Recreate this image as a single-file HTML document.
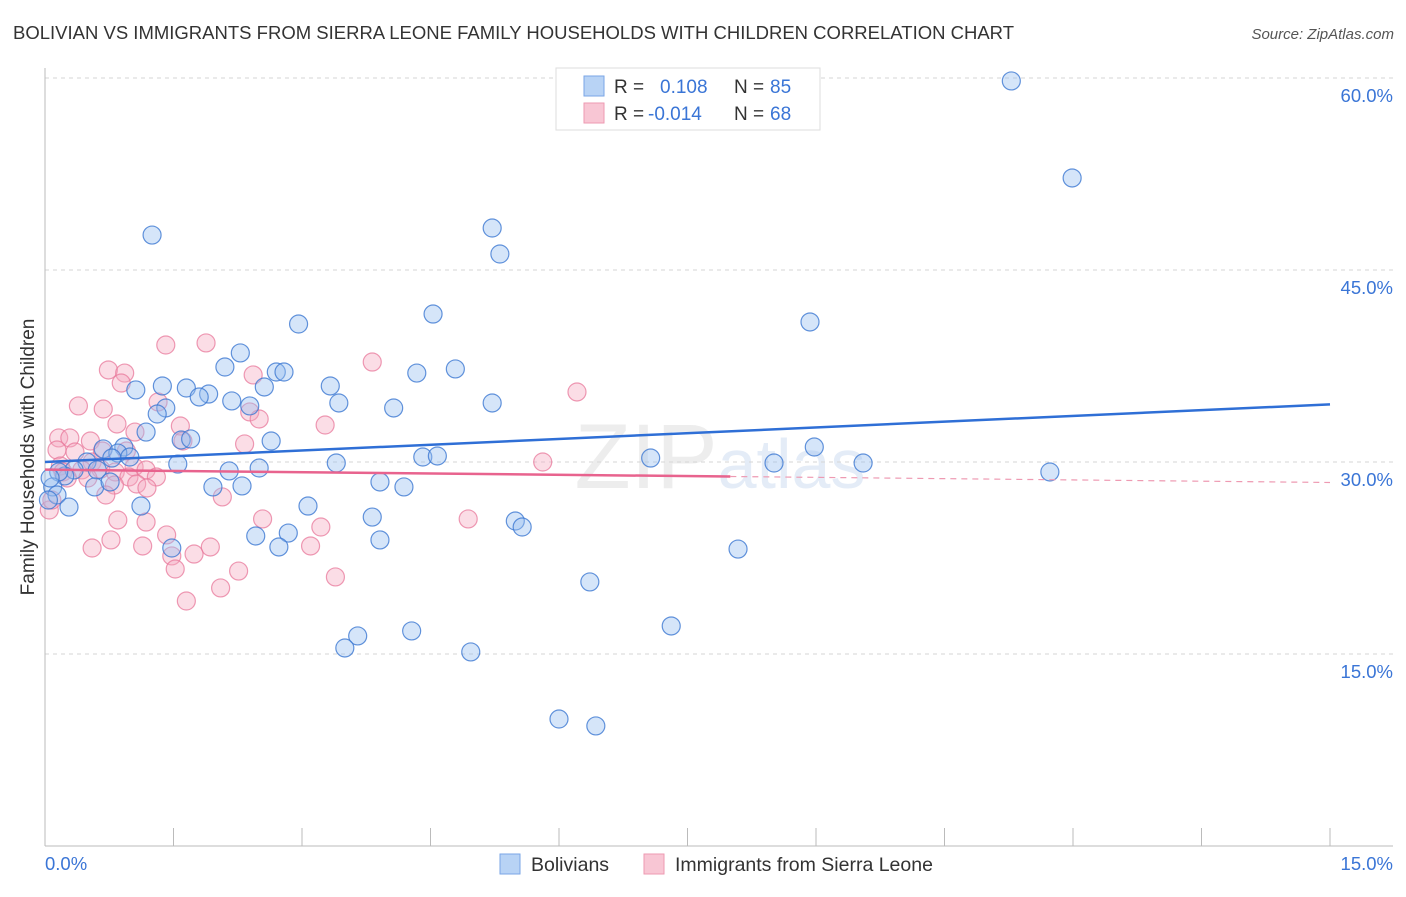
<!DOCTYPE html>
<html><head><meta charset="utf-8"><style>
body{margin:0;background:#fff;font-family:"Liberation Sans",sans-serif}
svg text{font-family:"Liberation Sans",sans-serif}
</style></head><body>
<svg id="chart" width="1406" height="892" xmlns="http://www.w3.org/2000/svg">
<text x="13" y="39" font-size="18" fill="#333" textLength="1001" lengthAdjust="spacingAndGlyphs">BOLIVIAN VS IMMIGRANTS FROM SIERRA LEONE FAMILY HOUSEHOLDS WITH CHILDREN CORRELATION CHART</text>
<text x="1394" y="39" font-size="15" fill="#555" text-anchor="end" font-style="italic">Source: ZipAtlas.com</text>
<text x="720" y="488" font-size="92" fill="#e2e2e2" text-anchor="middle" font-family="Liberation Serif" opacity="0.6">ZIP<tspan font-family="Liberation Sans" font-size="70" fill="#d3e0f2">atlas</tspan></text>
<g id="grid"></g><g id="axes"></g><g id="pts"></g><g id="lines"></g>
<text transform="translate(34,457) rotate(-90)" font-size="19" fill="#333" text-anchor="middle">Family Households with Children</text>
<g>
<rect x="556" y="68" width="264" height="62" fill="#fff" stroke="#ddd"/>
<rect x="584" y="76" width="20" height="20" fill="#b8d3f5" stroke="#7aa6e6"/>
<rect x="584" y="103" width="20" height="20" fill="#f8c6d4" stroke="#ee9ab2"/>
<text x="614" y="93" font-size="19" fill="#333">R = </text><text x="660" y="93" font-size="19" fill="#3a75d6">0.108</text>
<text x="734" y="93" font-size="19" fill="#333">N = </text><text x="770" y="93" font-size="19" fill="#3a75d6">85</text>
<text x="614" y="120" font-size="19" fill="#333">R = </text><text x="648" y="120" font-size="19" fill="#3a75d6">-0.014</text>
<text x="734" y="120" font-size="19" fill="#333">N = </text><text x="770" y="120" font-size="19" fill="#3a75d6">68</text>
</g>
<g>
<rect x="500" y="854" width="20" height="20" fill="#b8d3f5" stroke="#7aa6e6"/>
<text x="531" y="871" font-size="19.5" fill="#333">Bolivians</text>
<rect x="644" y="854" width="20" height="20" fill="#f8c6d4" stroke="#ee9ab2"/>
<text x="675" y="871" font-size="19.5" fill="#333">Immigrants from Sierra Leone</text>
</g>
</svg>
<script>
const blueX=[11.28,11.99,1.25,5.22,5.31,4.53,2.96,8.93,2.28,2.10,2.70,2.79,4.34,4.79,2.56,1.37,1.65,1.06,1.91,1.80,3.33,2.18,2.39,3.43,4.07,5.22,1.41,1.31,1.18,1.59,1.70,2.64,0.92,0.68,0.85,0.99,0.49,0.78,1.55,3.40,4.41,4.58,7.07,8.51,8.98,9.55,11.73,2.15,2.50,0.34,0.23,0.61,0.16,0.09,0.14,0.58,0.76,1.96,2.30,3.91,4.19,0.28,1.12,3.07,3.82,5.49,5.57,1.48,2.46,2.84,3.91,2.73,8.09,6.36,7.31,4.28,3.65,3.50,4.97,6.00,6.43,0.06,0.04];
const blueY=[59.77,52.19,47.73,48.28,46.25,41.56,40.78,40.94,38.52,37.42,37.03,37.03,36.95,37.27,35.86,35.94,35.78,35.63,35.31,35.08,35.94,34.77,34.38,34.61,34.22,34.61,34.22,33.75,32.34,31.72,31.80,31.64,31.17,31.02,30.70,30.39,30.00,30.31,29.84,29.92,30.39,30.47,30.31,29.92,31.17,29.92,29.22,29.30,29.53,29.38,28.91,29.38,29.22,28.05,27.42,28.05,28.44,28.05,28.13,28.44,28.05,26.48,26.56,26.56,25.70,25.39,24.92,23.28,24.22,24.45,23.91,23.36,23.20,20.63,17.19,16.80,16.41,15.47,15.16,9.92,9.38,28.75,27.03];
const pinkX=[1.88,1.41,3.82,2.43,0.74,0.93,0.89,6.21,0.39,0.68,1.32,2.39,2.50,0.84,1.05,3.27,0.16,0.29,0.53,1.58,1.61,2.33,0.14,0.35,0.67,0.95,0.18,0.55,1.04,1.18,0.21,0.43,0.65,0.82,0.98,1.30,0.50,0.26,1.07,1.19,0.81,0.71,2.07,0.05,0.08,5.81,4.94,0.85,1.18,2.54,3.22,1.42,0.77,0.55,1.14,1.93,3.10,1.48,1.74,1.52,2.26,3.39,2.05,1.65];
const pinkY=[39.30,39.14,37.81,36.80,37.19,36.95,36.17,35.47,34.38,34.14,34.69,33.91,33.36,32.97,32.34,32.89,31.88,31.88,31.64,32.81,31.64,31.41,30.94,30.78,30.86,30.86,29.69,30.00,29.61,29.38,29.22,29.38,29.45,29.22,28.83,28.83,28.75,28.75,28.28,27.97,28.20,27.42,27.27,26.25,27.03,30.00,25.55,25.47,25.31,25.55,24.92,24.30,23.91,23.28,23.44,23.36,23.44,22.66,22.81,21.64,21.48,21.02,20.16,19.14];
const yTicks=[15,30,45,60];
const xTicks=[0,15];
const blueTrend=[30.0,34.5];
const pinkTrend=[29.4,28.4];
const pinkSolidEnd=8.0;

const X=v=>45+v*(1285/15);
const Y=v=>846-v*12.8;
const NS="http://www.w3.org/2000/svg";
function mk(tag,attrs,parent){const e=document.createElementNS(NS,tag);for(const k in attrs)e.setAttribute(k,attrs[k]);document.getElementById(parent).appendChild(e);return e;}

yTicks.forEach(t=>{
  const l=mk('line',{x1:45,x2:1393,y1:Y(t),y2:Y(t),stroke:'#d6d6d6','stroke-dasharray':'4,4'},'grid');
  
  
  const tx=mk('text',{x:1393,y:Y(t)+24,'font-size':18.5,fill:'#3a75d6','text-anchor':'end'},'grid');
  tx.textContent=t.toFixed(1)+'%';
  
  
});
const ax=mk('line',{x1:45,x2:45,y1:68,y2:846,stroke:'#bbb'},'axes');


const bx=mk('line',{x1:45,x2:1393,y1:846,y2:846,stroke:'#bbb'},'axes');


for(let i=0;i<=10;i++){
  const t=mk('line',{x1:X(i*1.5),x2:X(i*1.5),y1:828,y2:846,stroke:'#bbb'},'axes');
  
  
}
xTicks.forEach((t,i)=>{
  const tx=mk('text',{x:i?1393:45,y:870,'font-size':18.5,fill:'#3a75d6','text-anchor':i?'end':'start'},'axes');
  tx.textContent=t.toFixed(1)+'%';
  
  
});
pinkX.forEach((x,i)=>{
  const c=mk('circle',{cx:X(x),cy:Y(pinkY[i]),r:9,fill:'rgba(246,170,193,0.4)',stroke:'rgba(232,120,155,0.75)','stroke-width':1.2},'pts');
  
  
});
blueX.forEach((x,i)=>{
  const c=mk('circle',{cx:X(x),cy:Y(blueY[i]),r:9,fill:'rgba(150,190,240,0.4)',stroke:'rgba(60,120,210,0.8)','stroke-width':1.2},'pts');
  
  
});
const bl=mk('line',{x1:X(0),y1:Y(blueTrend[0]),x2:X(15),y2:Y(blueTrend[1]),stroke:'#2f6fd6','stroke-width':2.5},'lines');


const pAt=x=>pinkTrend[0]+(pinkTrend[1]-pinkTrend[0])*x/15;
const pl=mk('line',{x1:X(0),y1:Y(pAt(0)),x2:X(pinkSolidEnd),y2:Y(pAt(pinkSolidEnd)),stroke:'#e8638e','stroke-width':2.5},'lines');


const pd=mk('line',{x1:X(pinkSolidEnd),y1:Y(pAt(pinkSolidEnd)),x2:X(15),y2:Y(pAt(15)),stroke:'#ee9ab2','stroke-width':1.2,'stroke-dasharray':'6,5'},'lines');


</script>
</body></html>
